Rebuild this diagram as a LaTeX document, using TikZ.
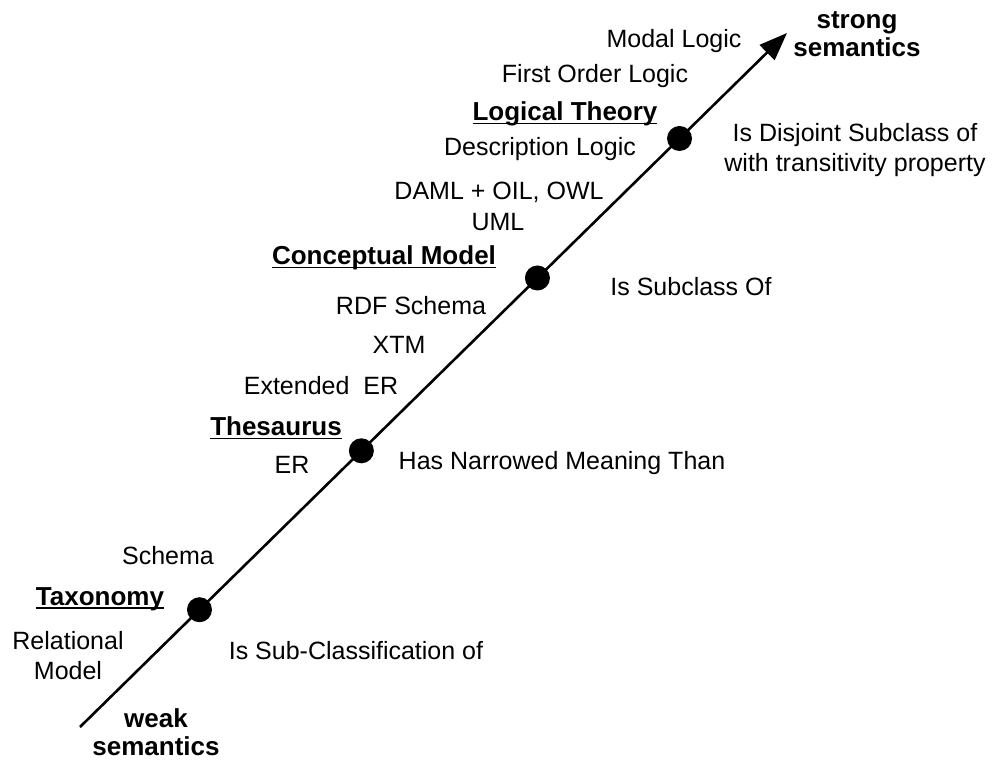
\documentclass[tikz,border=0pt]{standalone}
\usepackage{fontspec}
\setmainfont{Liberation Sans}
\usetikzlibrary{arrows.meta,calc}
% underline drawn a fixed distance below the baseline
\newcommand\lvlul[1]{\setbox0\hbox{#1}\rlap{\rule[-3.6pt]{\wd0}{1.6pt}}\box0}
\begin{document}
\begin{tikzpicture}[x=1pt,y=-1pt,
  every node/.style={inner sep=0pt,font=\fontsize{25}{30}\selectfont},
  term/.style={align=center},
  level/.style={font=\fontsize{26}{30}\selectfont\bfseries},
  relation/.style={align=center},
  endlabel/.style={align=center,font=\fontsize{26}{28}\selectfont\bfseries},
  axis/.style={line width=2.6pt,-{Triangle[length=28pt,width=21pt]}},
  dot/.style={circle,fill=black,minimum size=25pt,inner sep=0pt}]
\useasboundingbox (0,0) rectangle (997,760);

% semantic axis
\coordinate (s) at (80,727);
\coordinate (e) at (787,33);
\draw[axis] (s) -- (e);

% levels on the axis
\node[dot] (tax) at ($(s)!0.169!(e)$) {};
\node[dot] (the) at ($(s)!0.398!(e)$) {};
\node[dot] (con) at ($(s)!0.647!(e)$) {};
\node[dot] (log) at ($(s)!0.848!(e)$) {};

% axis ends
\node[endlabel] (strong) at (857,34) {strong\\semantics};
\node[endlabel] (weak) at (156,732) {weak\\semantics};

% level names
\node[level] (ltheory) at (565,114) {\lvlul{Logical Theory}};
\node[level] (lconcept) at (384,258) {\lvlul{Conceptual Model}};
\node[level] (lthes) at (276,428) {\lvlul{Thesaurus}};
\node[level] (ltax) at (100,599) {\lvlul{Taxonomy}};

% languages and models
\node[term] (modal) at (674,41) {Modal Logic};
\node[term] (fol) at (595,76) {First Order Logic};
\node[term] (dl) at (540,149) {Description Logic};
\node[term] (daml) at (499,192) {DAML + OIL, OWL};
\node[term] (uml) at (498,222) {UML};
\node[term] (rdfs) at (411,306) {RDF Schema};
\node[term] (xtm) at (399,345) {XTM};
\node[term] (eer) at (321,386) {Extended~~ER};
\node[term] (er) at (292,465) {ER};
\node[term] (schema) at (168,556) {Schema};
\node[term] (relm) at (68,656) {Relational\\Model};

% relations
\node[relation] (rdisj) at (855,150) {Is Disjoint Subclass of\\with transitivity property};
\node[relation] (rsub) at (691,287) {Is Subclass Of};
\node[relation] (rnarrow) at (562,463) {Has Narrowed Meaning Than};
\node[relation] (rsubcl) at (356,651) {Is Sub-Classification of};
\end{tikzpicture}
\end{document}
